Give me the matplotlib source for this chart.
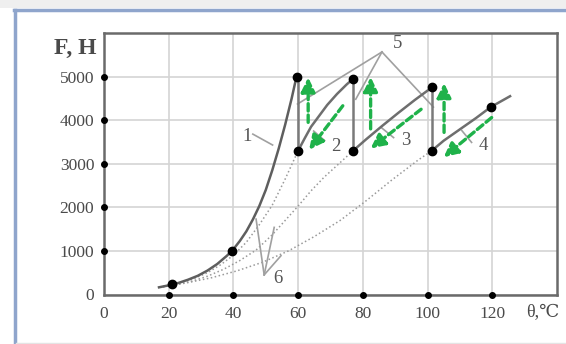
import numpy as np
import matplotlib.pyplot as plt
from matplotlib.patches import Rectangle
from matplotlib.lines import Line2D

plt.rcParams['font.family'] = ['Liberation Serif', 'DejaVu Serif']

# curve 1 (solid, heating)
c1_x = [17, 20, 23, 26, 29, 32, 35, 38, 40, 42, 44, 46, 48, 50, 52, 54, 56, 58, 59.5]
c1_y = [165, 210, 265, 340, 430, 550, 700, 890, 1040, 1230, 1450, 1720, 2030, 2400,
        2850, 3350, 3900, 4500, 5000]

# sawtooth branches
c2_x = [60, 62, 64, 66.5, 69, 72, 75, 77]
c2_y = [3300, 3580, 3850, 4100, 4350, 4600, 4820, 4950]
c3_x = [77, 81, 86, 91, 96, 101.3]
c3_y = [3300, 3560, 3870, 4170, 4460, 4750]
c4_x = [101.3, 105, 110, 115, 119.5, 125.5]
c4_y = [3300, 3530, 3790, 4050, 4300, 4550]

# vertical drops
drop_x = [60, 77, 101.3]
drop_top = [5000, 4950, 4750]
drop_bot = [3300, 3300, 3300]

# dotted curves
da_x = [17, 22, 27, 32, 36, 40, 44, 48, 52, 56, 60]
da_y = [165, 240, 340, 500, 680, 900, 1200, 1600, 2050, 2650, 3300]
db_x = [17, 22, 27, 32, 37, 42, 47, 52, 56, 60, 64, 68, 72, 77]
db_y = [165, 220, 300, 420, 580, 780, 1020, 1370, 1700, 2030, 2380, 2690, 2960, 3300]
dc_x = [17, 25, 33, 41, 49, 57, 65, 73, 81, 89, 97, 101.3]
dc_y = [165, 260, 380, 540, 740, 1000, 1330, 1700, 2150, 2630, 3080, 3300]

# black dots
pt_x = [21, 39.5, 59.5, 60, 77, 77, 101.3, 101.3, 119.5]
pt_y = [250, 1000, 5000, 3300, 4950, 3300, 4750, 3300, 4300]

# green arrows (start -> tip)
arr_up = [((63.1, 3950), (63.1, 4980)), ((82.4, 3800), (82.4, 4990)), ((105.1, 3720), (105.1, 4850))]
arr_dn = [((73.8, 4330), (63.4, 3320)), ((98.0, 4250), (82.4, 3350)), ((119.8, 4060), (105.0, 3150))]

xticks = [0, 20, 40, 60, 80, 100, 120]
yticks = [0, 1000, 2000, 3000, 4000, 5000]

fig = plt.figure(figsize=(5.66, 3.44), dpi=100)
fig.patch.set_facecolor('white')
fig.patches.append(Rectangle((0, 1 - 8 / 344), 1, 8 / 344, transform=fig.transFigure,
                             facecolor='#efefef', edgecolor='none', zorder=0))
blue = '#8fa5cc'
fig.lines.append(Line2D([14.5 / 566, 14.5 / 566], [0, 1 - 9.5 / 344], transform=fig.transFigure,
                        color=blue, lw=2.5))
fig.lines.append(Line2D([13.5 / 566, 1], [1 - 9.5 / 344, 1 - 9.5 / 344], transform=fig.transFigure,
                        color=blue, lw=2.5))
fig.lines.append(Line2D([16 / 566, 1], [1.5 / 344, 1.5 / 344], transform=fig.transFigure,
                        color='#e4e4e4', lw=1))

ax = fig.add_axes([104 / 566, 1 - 294.5 / 344, (557 - 104) / 566, (294.5 - 33) / 344])
ax.set_zorder(2)
ax.set_xlim(0, 140)
ax.set_ylim(0, 6000)
ax.set_facecolor('white')
ax.grid(True, color='#d4d4d4', lw=1.2)
ax.set_axisbelow(True)
for s in ax.spines.values():
    s.set_color('#6a6a6a')
    s.set_linewidth(1.8)
ax.set_xticks(xticks)
ax.set_yticks(yticks)
ax.tick_params(length=0, labelsize=12.5, labelcolor='#4a4a4a')
ax.tick_params(axis='x', pad=8)
ax.tick_params(axis='y', pad=7)

# tick dots on axes
ax.plot(xticks[1:], [0] * (len(xticks) - 1), 'o', color='black', ms=4, clip_on=False, zorder=6)
ax.plot([0] * (len(yticks) - 1), yticks[1:], 'o', color='black', ms=4, clip_on=False, zorder=6)

gray = '#6e6e6e'
light = '#a0a0a0'
for xs, ys in [(da_x, da_y), (db_x, db_y), (dc_x, dc_y)]:
    ax.plot(xs, ys, ':', color='#9a9a9a', lw=1.1, zorder=2)

ax.plot(c1_x, c1_y, color='#5e5e5e', lw=1.8, zorder=3)
for xs, ys in [(c2_x, c2_y), (c3_x, c3_y), (c4_x, c4_y)]:
    ax.plot(xs, ys, color=gray, lw=1.8, zorder=3)
for x, t, b in zip(drop_x, drop_top, drop_bot):
    ax.plot([x, x], [b, t], color='#7a7a7a', lw=1.8, zorder=3)

# label leaders
ax.plot([46, 52.1], [3680, 3430], color=light, lw=1.2)
ax.plot([64.8, 68.2], [3750, 3530], color=light, lw=1.2)
ax.plot([85.7, 89.5], [3830, 3600], color=light, lw=1.2)
ax.plot([110.6, 113.6], [3760, 3490], color=light, lw=1.2)
for ex, ey in [(59.8, 4370), (77.8, 4480), (101.8, 4300)]:
    ax.plot([85.9, ex], [5565, ey], color=light, lw=1.2)
for ex, ey in [(47, 1730), (52.6, 1540), (54.7, 890)]:
    ax.plot([49.5, ex], [450, ey], color=light, lw=1.2)

lab = dict(fontsize=13.5, color='#555555', ha='center', va='center')
ax.text(44.2, 3630, '1', **lab)
ax.text(71.6, 3400, '2', **lab)
ax.text(93.2, 3530, '3', **lab)
ax.text(117.1, 3410, '4', **lab)
ax.text(90.8, 5770, '5', **lab)
ax.text(53.8, 370, '6', **lab)

ax.plot(pt_x, pt_y, 'o', color='black', ms=6, zorder=5)

green = '#1fb24a'
for (sx, sy), (tx, ty) in arr_up + arr_dn:
    ax.annotate('', xy=(tx, ty), xytext=(sx, sy),
                arrowprops=dict(arrowstyle='-|>,head_length=0.85,head_width=0.42',
                                linestyle=(0, (2.2, 1.2)), lw=2.4, color=green,
                                shrinkA=0, shrinkB=0), zorder=7)

fig.text(97 / 566, 1 - 48 / 344, 'F, H', fontsize=17, fontweight='bold', color='#4a4a4a',
         ha='right', va='center')
fig.text(526 / 566, 1 - 313 / 344, 'θ,℃', fontsize=13, color='#4a4a4a',
         ha='left', va='center')

fig.savefig('out.png', dpi=100)
